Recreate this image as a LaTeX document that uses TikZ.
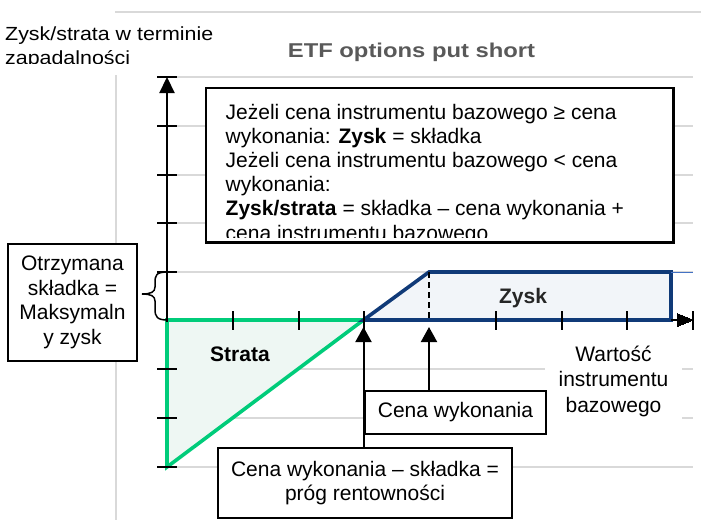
\documentclass[tikz,border=0pt]{standalone}
\usepackage{fontspec}
\setmainfont{Liberation Sans}
\usetikzlibrary{arrows.meta}
\definecolor{gridgray}{RGB}{217,217,217}
\definecolor{plotgreen}{RGB}{0,204,122}
\definecolor{greenfill}{RGB}{238,247,243}
\definecolor{plotblue}{RGB}{16,58,120}
\definecolor{bluefill}{RGB}{242,245,249}
\definecolor{thinblue}{RGB}{68,114,196}
\definecolor{titlegray}{RGB}{89,89,89}
\begin{document}
\begin{tikzpicture}[x=1pt,y=-1pt,
  gridline/.style={draw=gridgray, line width=1.3pt},
  axisline/.style={line width=2.2pt},
  tickmark/.style={line width=2pt},
  bodytext/.style={font=\fontsize{21}{24.3}\selectfont, inner sep=0pt},
  labelbox/.style={draw, line width=1.5pt, fill=white, inner sep=0pt, align=center, font=\fontsize{21}{24.5}\selectfont},
  arrowline/.style={line width=2pt, -{Triangle[length=15pt,width=16pt]}, shorten >=7pt},
  greenarea/.style={draw=plotgreen, fill=greenfill, line width=3.6pt, line join=miter},
  bluearea/.style={draw=plotblue, fill=bluefill, line width=3.6pt, line join=miter},
]
\useasboundingbox (0,0) rectangle (701,520);
% frame lines
\draw[gridline] (115,12) -- (701,12);
\draw[gridline] (116,75) -- (116,520);
% grid
\foreach \yy in {77,126,175,223,272,369,418,467}
  \draw[gridline] (167,\yy) -- (693,\yy);
% titles
\begin{scope}
\clip (0,0) rectangle (260,63);
\node[bodytext, anchor=base west, font=\fontsize{19}{24}\selectfont] (ylab1) at (5,40) {\scalebox{1.126}[1]{Zysk/strata w terminie}};
\node[bodytext, anchor=base west, font=\fontsize{19}{24}\selectfont] (ylab2) at (5,64) {\scalebox{1.126}[1]{zapadalności}};
\end{scope}
\node[anchor=base, inner sep=0pt, text=titlegray, font=\fontsize{20}{24}\selectfont\bfseries] (title) at (411.5,57) {\scalebox{1.19}[1]{ETF options put short}};
% coordinates
\coordinate (O) at (167,320);
\coordinate (yT) at (167,77);
\coordinate (xR) at (693,320);
\coordinate (be) at (363.5,320);
\coordinate (k) at (429,320);
\coordinate (kT) at (429,272);
\coordinate (yB) at (167,467);
\coordinate (zE) at (671,320);
\coordinate (zT) at (671,272);
% areas
\draw[greenarea] (O) -- (be) -- (yB) -- cycle;
\draw[bluearea] (be) -- (kT) -- (zT) -- (zE) -- cycle;
\draw[thinblue, line width=1pt] (zT) -- (693,272);
\draw[line width=2pt, dash pattern=on 6pt off 4pt] (kT) -- (k);
% axes
\draw[axisline, -{Triangle[length=16pt,width=15pt]}] (167,322) -- (yT);
\draw[axisline] (zE) -- (677,320);
\draw[line width=0pt, fill=black] (677,313.5) -- (693,320) -- (677,326.5) -- cycle;
% ticks
\foreach \yy in {77,126,175,223,272,369,418,467}
  \draw[tickmark] (157,\yy) -- (177,\yy);
\foreach \xx in {232.75,298.5,363.5,495.75,561.5,627.25,693}
  \draw[tickmark] (\xx,311) -- (\xx,330);
% labels in plot
\node[font=\fontsize{21}{24}\selectfont\bfseries, inner sep=0pt] (strata) at (240,354) {Strata};
\node[font=\fontsize{21}{24}\selectfont\bfseries, inner sep=0pt, text=black!85] (zysk) at (523,298) {Zysk};
% info box
\node[draw, line width=1.5pt, fill=white, minimum width=467pt, minimum height=154pt, inner sep=0pt] (info) at (439.5,165) {};
\begin{scope}
\clip (206,89) rectangle (672,237.5);
\node[bodytext, anchor=base west] (t1) at (225.5,119) {Jeżeli cena instrumentu bazowego ≥ cena};
\node[bodytext, anchor=base west] (t2) at (225.5,143.2) {wykonania: \textbf{Zysk} = składka};
\node[bodytext, anchor=base west] (t3) at (225.5,167.4) {Jeżeli cena instrumentu bazowego < cena};
\node[bodytext, anchor=base west] (t4) at (225.5,191.6) {wykonania:};
\node[bodytext, anchor=base west] (t5) at (225.5,215.8) {\textbf{Zysk/strata} = składka – cena wykonania +};
\node[bodytext, anchor=base west] (t6) at (225.5,240) {cena instrumentu bazowego};
\end{scope}
\draw[line width=1.5pt] (info.north west) rectangle (info.south east);
% premium box and brace
\node[labelbox, minimum width=129pt, minimum height=117pt] (prem) at (72.5,302.5) {Otrzymana\\składka =\\Maksymaln\\y zysk};
\coordinate (bt) at (168,272);
\coordinate (bb) at (168,320);
\coordinate (btip) at (142,294);
\draw[line width=1.5pt] (bt) .. controls (156,272) and (155,275) .. (155,283) -- (155,287)
  .. controls (155,292) and (151,294) .. (btip)
  .. controls (151,294) and (155,296) .. (155,301) -- (155,309)
  .. controls (155,317) and (157,320) .. (bb);
% x axis label
\node[fill=white, inner sep=0pt, minimum width=137pt, minimum height=80pt, align=center, font=\fontsize{21}{25.5}\selectfont] (xlab) at (613.5,381) {Wartość\\instrumentu\\bazowego};
% strike / breakeven boxes
\node[labelbox, minimum width=181pt, minimum height=43pt] (strike) at (455.5,412.5) {Cena wykonania};
\node[labelbox, minimum width=294pt, minimum height=70pt] (bebox) at (365,483) {Cena wykonania – składka =\\próg rentowności};
\draw[arrowline] (bebox.north -| be) -- (be);
\draw[arrowline] (strike.north -| k) -- (k);
\end{tikzpicture}
\end{document}
